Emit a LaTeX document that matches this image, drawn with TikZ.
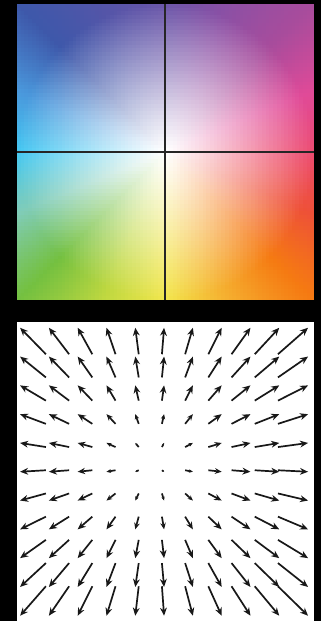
\documentclass[tikz,border=0pt]{standalone}
\usepackage{tikz}
\usetikzlibrary{arrows.meta}
\usepackage{xcolor}
% hue anchors of the colour key, every 22.5 degrees counter-clockwise from the right
\definecolor{hue0}{HTML}{EC4A70}
\definecolor{hue1}{HTML}{E04A98}
\definecolor{hue2}{HTML}{A84C9C}
\definecolor{hue3}{HTML}{8A50A5}
\definecolor{hue4}{HTML}{6A55A8}
\definecolor{hue5}{HTML}{5555A8}
\definecolor{hue6}{HTML}{3E58AA}
\definecolor{hue7}{HTML}{4A98DC}
\definecolor{hue8}{HTML}{44C8F2}
\definecolor{hue9}{HTML}{80CCB8}
\definecolor{hue10}{HTML}{74C040}
\definecolor{hue11}{HTML}{C0D840}
\definecolor{hue12}{HTML}{F2E64C}
\definecolor{hue13}{HTML}{F5B030}
\definecolor{hue14}{HTML}{F57A12}
\definecolor{hue15}{HTML}{EE5038}
\definecolor{arrowgray}{HTML}{181818}

\begin{document}
\begin{tikzpicture}[
    x=1pt, y=-1pt,
    crossline/.style={draw=black!85, line width=1.8pt},
    flowarrow/.style={draw=arrowgray, line width=1.7pt},
    fieldbox/.style={fill=white}
]
    \fill[black] (0,0) rectangle (321,621);

    % colour key: hue from angle, saturation from radius
    \foreach \i in {0,...,79}{
      \foreach \j in {0,...,79}{
        \pgfmathsetmacro\xa{17+\i*3.7125}
        \pgfmathsetmacro\ya{4+\j*3.7}
        \pgfmathsetmacro\dx{\xa+1.856-165.5}
        \pgfmathsetmacro\dy{152-\ya-1.85}
        \pgfmathsetmacro\ang{atan2(\dy,\dx)}
        \pgfmathsetmacro\ang{\ang<0 ? \ang+360 : \ang}
        \pgfmathsetmacro\u{\ang/22.5}
        \pgfmathtruncatemacro\k{floor(\u)}
        \pgfmathtruncatemacro\kk{mod(\k+1,16)}
        \pgfmathsetmacro\p{100*(1-(\u-\k))}
        \pgfmathsetmacro\r{veclen(\dx,\dy)/148}
        \pgfmathsetmacro\s{100*min(1,\r^1.1)}
        \colorlet{huec}{hue\k!\p!hue\kk}
        \colorlet{cellc}{huec!\s!white}
        \fill[cellc] (\xa,\ya) rectangle ++(4,4);
      }
    }
    \fill[black] (314,0) rectangle (321,321);
    \fill[black] (0,300) rectangle (321,321);

    \draw[crossline] (165,4) -- (165,300);
    \draw[crossline] (17,152) -- (314,152);

    % expanding flow field
    \fill[fieldbox] (17,322) rectangle (314,621);
    \foreach \i in {0,...,10}{
      \foreach \j in {0,...,10}{
        \pgfmathsetmacro\px{33+26*\i}
        \pgfmathsetmacro\py{341+26*\j}
        \pgfmathsetmacro\vx{0.215*(\px-153)}
        \pgfmathsetmacro\vy{0.215*(\py-464)}
        \pgfmathsetmacro\len{veclen(\vx,\vy)}
        \pgfmathsetmacro\hl{min(8,0.5*\len)}
        \pgfmathsetmacro\hw{0.85*\hl}
        \pgfmathsetmacro\xs{\px-0.5*\vx}
        \pgfmathsetmacro\ys{\py-0.5*\vy}
        \pgfmathsetmacro\xe{\px+0.5*\vx}
        \pgfmathsetmacro\ye{\py+0.5*\vy}
        \draw[flowarrow, -{Stealth[length=\hl pt, width=\hw pt]}] (\xs,\ys) -- (\xe,\ye);
      }
    }
\end{tikzpicture}
\end{document}
